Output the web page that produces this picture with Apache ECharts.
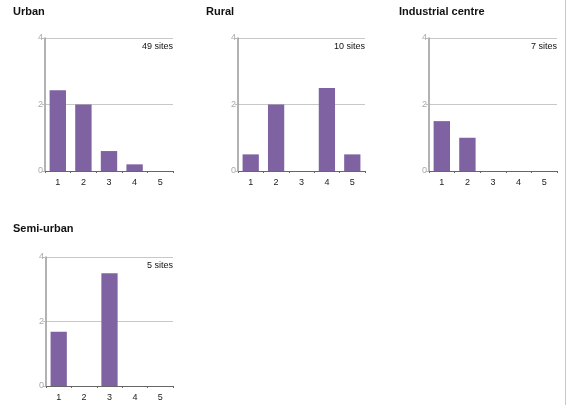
<!DOCTYPE html>
<html>
<head>
<meta charset="utf-8">
<script src="https://cdn.jsdelivr.net/npm/echarts@6/dist/echarts.min.js"></script>
<style>
  html, body { margin: 0; padding: 0; background: #fff; }
  #chart { width: 569px; height: 405px; }
</style>
</head>
<body>
<div id="chart"></div>
<script>
const categories = ["1", "2", "3", "4", "5"];
const panelTitles = ["Urban", "Rural", "Industrial centre", "Semi-urban"];
const siteLabels = ["49 sites", "10 sites", "7 sites", "5 sites"];
const urbanValues = [2.43, 2.0, 0.6, 0.2, 0];
const ruralValues = [0.5, 2.0, 0, 2.5, 0.5];
const industrialValues = [1.5, 1.0, 0, 0, 0];
const semiUrbanValues = [1.68, 0, 3.5, 0, 0];
const yTicks = [0, 2, 4];

const panelData = [urbanValues, ruralValues, industrialValues, semiUrbanValues];

// grid boxes: left, top, width, height
const boxes = [
  [45, 38, 128, 133],
  [238, 38, 127, 133],
  [429, 38, 128, 133],
  [46, 257, 127, 129],
];
const titlePos = [[13, 6], [206, 6], [399, 6], [13, 223]];

const purple = "#7f62a2";

const chart = echarts.init(document.getElementById("chart"));

const grid = boxes.map((b) => ({
  left: b[0], top: b[1], width: b[2], height: b[3], containLabel: false,
}));

const xAxis = boxes.map((b, i) => ({
  type: "category",
  gridIndex: i,
  data: categories,
  axisLine: { lineStyle: { color: "#666", width: 1 } },
  axisTick: { show: true, length: 2, lineStyle: { color: "#666" } },
  axisLabel: { color: "#222", fontSize: 9, margin: 7, fontFamily: "Liberation Sans" },
  splitLine: { show: false },
}));

const yAxis = boxes.map((b, i) => ({
  type: "value",
  gridIndex: i,
  min: 0,
  max: yTicks[yTicks.length - 1],
  interval: 2,
  axisLine: { show: true, lineStyle: { color: "#999", width: 1.5 } },
  axisTick: { show: true, length: 3, lineStyle: { color: "#bbb" } },
  axisLabel: { color: "#aaa", fontSize: 9, margin: 2, fontFamily: "Liberation Sans" },
  splitLine: { show: true, lineStyle: { color: "#c8c8c8", width: 1 } },
}));

const series = panelData.map((vals, i) => ({
  type: "bar",
  xAxisIndex: i,
  yAxisIndex: i,
  data: vals,
  barWidth: "64%",
  itemStyle: { color: purple, borderWidth: 0 },
  z: 3,
}));

const titles = [];
panelTitles.forEach((t, i) => {
  titles.push({
    text: t,
    left: titlePos[i][0],
    top: titlePos[i][1],
    padding: 0,
    textStyle: { fontSize: 11, fontWeight: "bold", color: "#111", fontFamily: "Liberation Sans" },
  });
  titles.push({
    text: siteLabels[i],
    right: 569 - (boxes[i][0] + boxes[i][2]),
    top: boxes[i][1] + 4,
    padding: 0,
    textStyle: { fontSize: 9, fontWeight: "normal", color: "#111", fontFamily: "Liberation Sans" },
  });
});

chart.setOption({
  animation: false,
  backgroundColor: "#fff",
  title: titles,
  grid,
  xAxis,
  yAxis,
  series,
  graphic: [
    {
      type: "line",
      shape: { x1: 565.5, y1: 0, x2: 565.5, y2: 405 },
      style: { stroke: "#c8c8c8", lineWidth: 1 },
    },
  ],
});
</script>
</body>
</html>
